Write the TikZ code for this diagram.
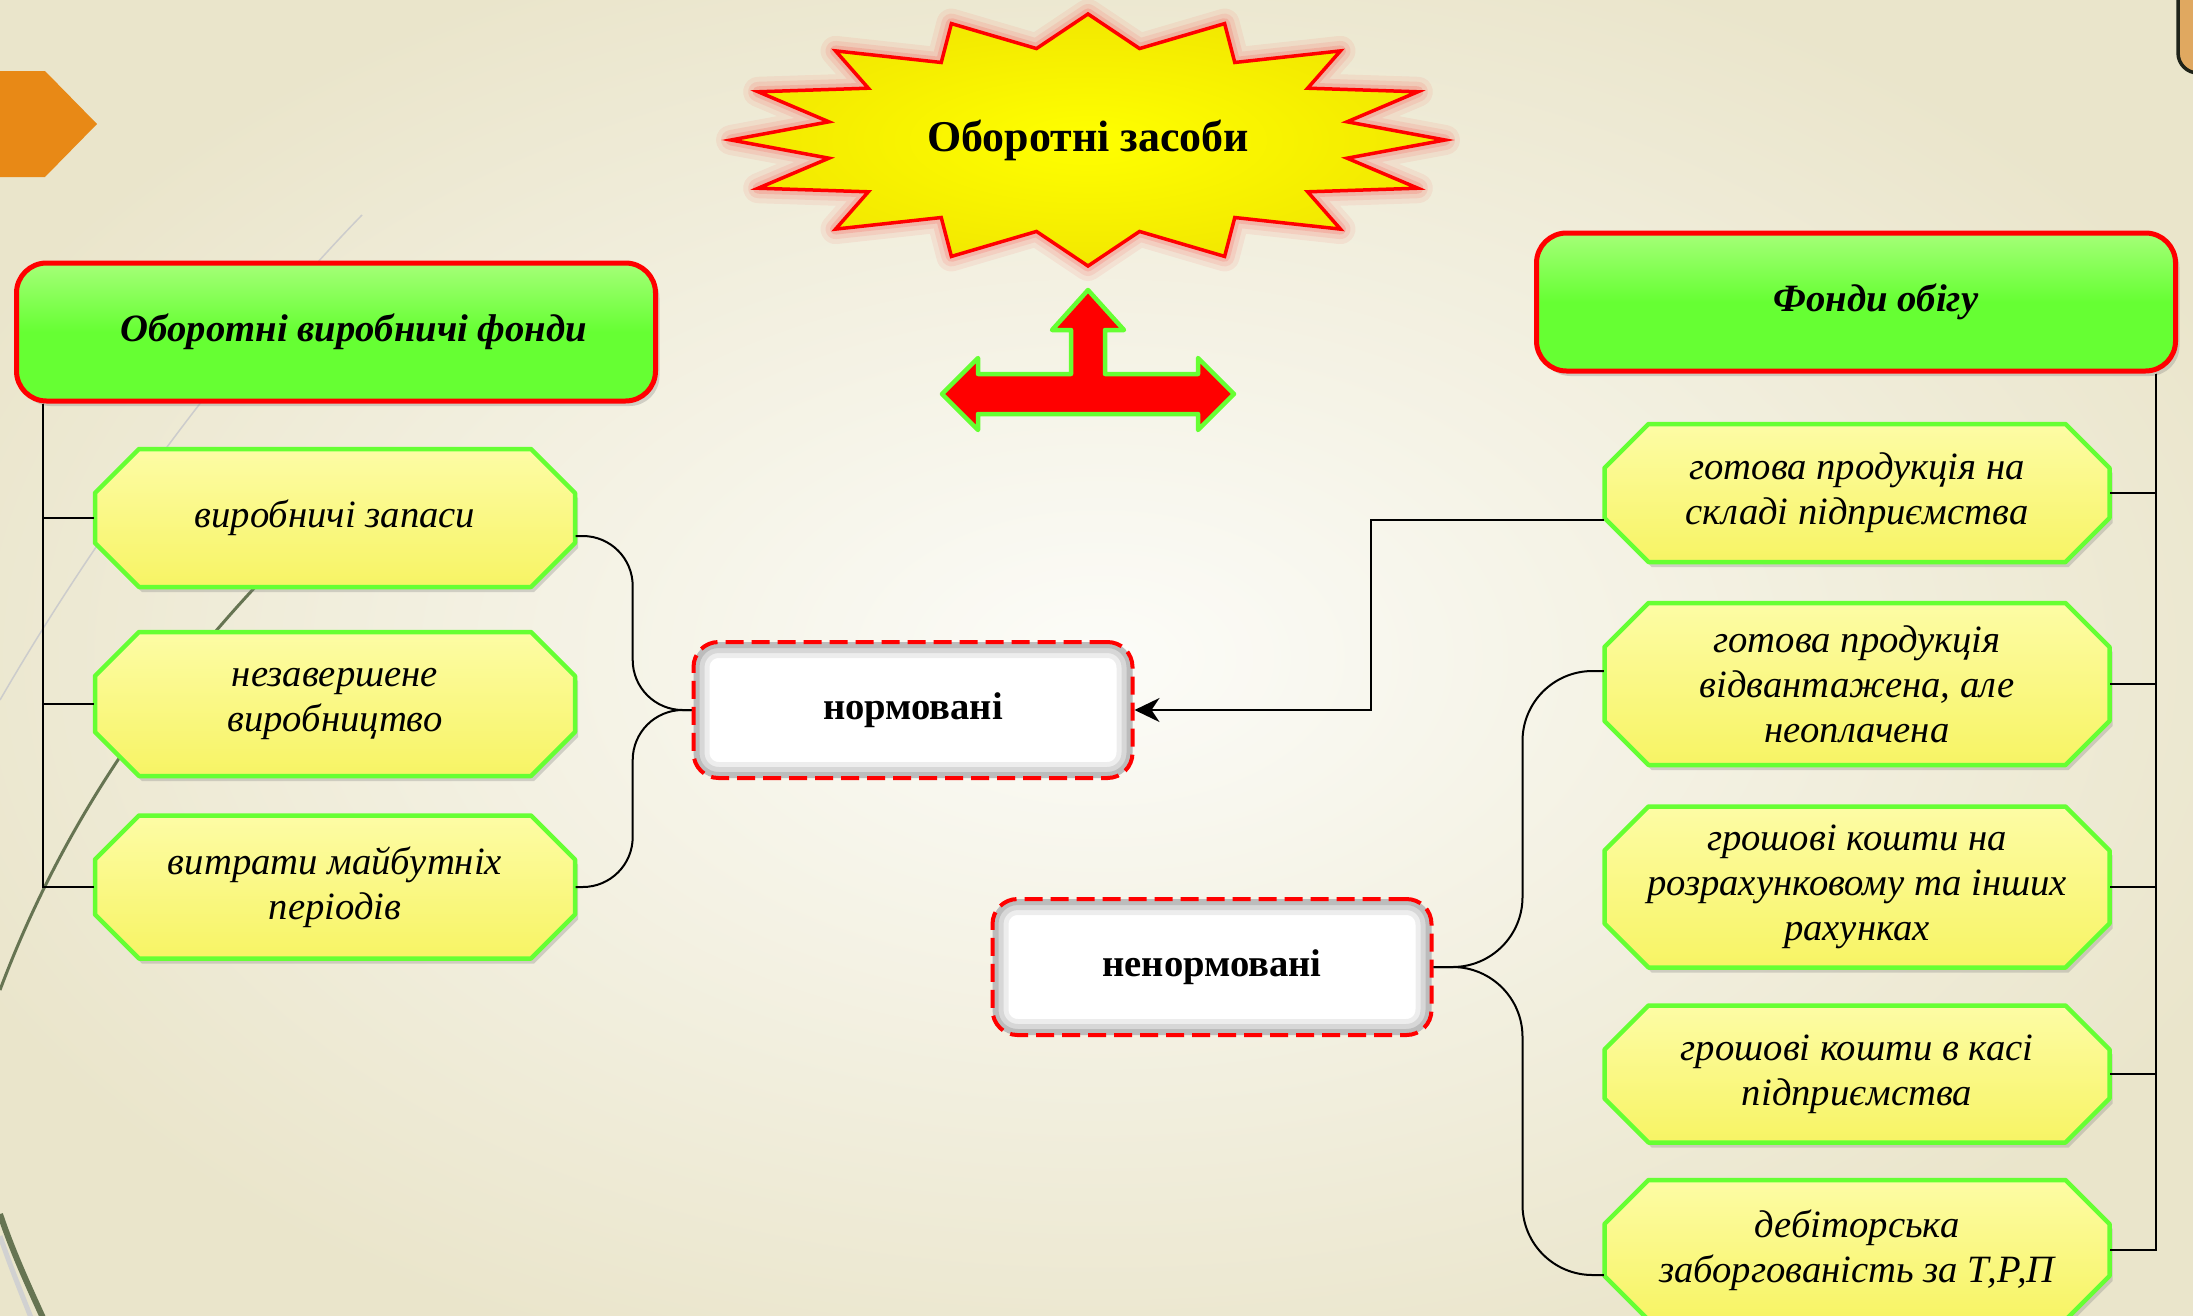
\documentclass[tikz,border=0pt]{standalone}
\usepackage{fontspec}
\setmainfont{Liberation Serif}
\usetikzlibrary{shadows,arrows.meta}
\definecolor{fondgreen}{RGB}{102,255,51}
\definecolor{fondlight}{RGB}{165,255,120}
\definecolor{vydyellow}{RGB}{247,244,100}
\definecolor{vydlight}{RGB}{253,252,165}
\definecolor{cream}{RGB}{234,229,203}
\definecolor{creamlight}{RGB}{252,252,248}
\definecolor{olive}{RGB}{102,116,82}
\definecolor{tab}{RGB}{232,137,22}
% octagon box: name, centre, half width, half height, text
\newcommand\vyd[5]{%
  \path[vydshape, shift={#2}] (-#3+4.4mm,#4) -- (#3-4.4mm,#4) -- (#3,#4-4.4mm)
     -- (#3,-#4+4.4mm) -- (#3-4.4mm,-#4) -- (-#3+4.4mm,-#4) -- (-#3,-#4+4.4mm)
     -- (-#3,#4-4.4mm) -- cycle;
  \node[vydtext, minimum width=2*#3, minimum height=2*#4] (#1) at #2 {#5};}
\begin{document}
\begin{tikzpicture}[x=0.1mm, y=-0.1mm,
   every node/.style={align=center, font=\fontsize{11}{12.8}\selectfont},
   fond/.style={rectangle, rounded corners=3mm, draw=red, line width=0.5mm,
      top color=fondlight, bottom color=fondgreen, middle color=fondgreen,
      minimum width=63.9mm, minimum height=13.8mm,
      font=\fontsize{11}{13}\selectfont\bfseries\itshape,
      drop shadow={opacity=.3, shadow xshift=.4mm, shadow yshift=-.5mm}},
   vydshape/.style={draw=fondgreen, line width=0.45mm, line join=round,
      top color=vydlight, bottom color=vydyellow,
      drop shadow={opacity=.3, shadow xshift=.3mm, shadow yshift=-.5mm}},
   vydtext/.style={rectangle, inner sep=0pt, font=\fontsize{11}{12.8}\selectfont\itshape},
   norma/.style={rectangle, rounded corners=2.5mm, draw=red, line width=0.4mm,
      dash pattern=on 1.8mm off 0.8mm, fill=white,
      minimum width=43.9mm, minimum height=13.6mm,
      font=\fontsize{11}{13}\selectfont\bfseries,
      path picture={\foreach \w/\o in {3.2mm/.07,2.2mm/.09,1.2mm/.12}
         \draw[solid, black, line width=\w, opacity=\o, rounded corners=2.5mm]
         (path picture bounding box.south west) rectangle (path picture bounding box.north east);}},
   zv/.style={line width=0.2mm, black}]
\useasboundingbox (0,0) rectangle (2193,1315);
\clip (0,0) rectangle (2193,1315);
\shade[inner color=creamlight, outer color=cream] (-150,-100) rectangle (2350,1415);
\fill[tab] (0,71) -- (45,71) -- (97,124) -- (45,177) -- (0,177) -- cycle;
\draw[line width=0.35mm, draw=black!70!olive, fill={rgb,255:red,224;green,168;blue,96},
   rounded corners=2mm] (2178,-40) rectangle (2240,73);
\draw[black!20, line width=0.15mm] (362,215) .. controls (250,330) and (110,510) .. (0,700);
\draw[olive, line width=0.3mm] (258,584) .. controls (150,700) and (60,830) .. (0,990);
\draw[black!18, line width=0.5mm] (0,1236) .. controls (10,1265) and (20,1290) .. (32,1320);
\draw[olive, line width=0.6mm] (0,1214) .. controls (12,1250) and (28,1285) .. (44,1320);

\foreach \w/\o in {3mm/.06,2mm/.08,1.1mm/.12}
  \draw[red, opacity=\o, line width=\w, line join=round]
   plot[variable=\k, samples=33, domain=0:32]
   ({1088+357*(1-0.26*mod(round(\k),2))*cos(11.25*\k)}, {140+126*(1-0.26*mod(round(\k),2))*sin(11.25*\k)}) -- cycle;
\draw[red, line width=0.35mm, inner color=yellow, outer color={rgb,255:red,242;green,232;blue,0}]
   plot[variable=\k, samples=33, domain=0:32]
   ({1088+357*(1-0.26*mod(round(\k),2))*cos(11.25*\k)}, {140+126*(1-0.26*mod(round(\k),2))*sin(11.25*\k)}) -- cycle;
\node (zasoby) at (1088,140) {\fontsize{12.5}{14}\selectfont\bfseries Оборотні засоби};

\draw[fill=red, draw=fondgreen, line width=0.45mm, line join=round]
   (1088,290) -- (1124,330) -- (1105,330) -- (1105,374) -- (1198,374) -- (1198,358)
   -- (1234,394) -- (1198,430) -- (1198,414) -- (978,414) -- (978,430) -- (942,394)
   -- (978,358) -- (978,374) -- (1071,374) -- (1071,330) -- (1052,330) -- cycle;

\node[fond] (lhead) at (336,332) {\hspace*{3.6mm}Оборотні виробничі фонди};
\node[fond] (rhead) at (1856,302) {\hspace*{4mm}Фонди обігу};

\vyd{lz1}{(335,518)}{24mm}{6.9mm}{виробничі запаси}
\vyd{lz2}{(335,704)}{24mm}{7.2mm}{незавершене\\виробництво}
\vyd{lz3}{(335,887)}{24mm}{7.15mm}{витрати майбутніх\\періодів}

\vyd{r1}{(1857,493)}{25.25mm}{6.9mm}{готова продукція на\\складі підприємства}
\vyd{r2}{(1857,684)}{25.25mm}{8.1mm}{готова продукція\\відвантажена, але\\неоплачена}
\vyd{r3}{(1857,887)}{25.25mm}{8.05mm}{грошові кошти на\\розрахунковому та інших\\рахунках}
\vyd{r4}{(1857,1074)}{25.25mm}{6.85mm}{грошові кошти в касі\\підприємства}
\vyd{r5}{(1857,1250)}{25.25mm}{7mm}{дебіторська\\заборгованість за Т,Р,П}

\node[norma] (norm) at (913,710) {нормовані};
\node[norma] (nenorm) at (1212,967) {ненормовані};

\foreach \n in {lz1,lz2,lz3}
   \draw[zv] ([xshift=2.9mm]lhead.south west) |- (\n.west);
\foreach \n in {r1,r2,r3,r4,r5}
   \draw[zv] ([xshift=-2.2mm]rhead.south east) |- (\n.east);

\draw[zv, rounded corners=5mm] ([yshift=-1.8mm]lz1.east) -- ++(5.7mm,0) |- (norm.west);
\draw[zv, rounded corners=5mm] (lz3.east) -- ++(5.7mm,0) |- (norm.west);
\draw[zv, rounded corners=7mm] (nenorm.east) -- ++(8.9mm,0) |- ([yshift=1.3mm]r2.west);
\draw[zv, rounded corners=7mm] (nenorm.east) -- ++(8.9mm,0) |- ([yshift=-2.5mm]r5.west);
\draw[zv, -{Stealth[length=2.5mm, width=2.4mm, inset=0.8mm]}]
   ([yshift=-2.7mm]r1.west) -- ++(-23.3mm,0) |- (norm.east);
\end{tikzpicture}
\end{document}
